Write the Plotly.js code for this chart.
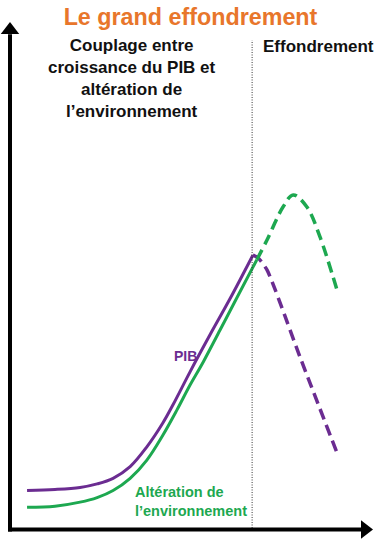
<!DOCTYPE html>
<html>
<head>
<meta charset="utf-8">
<script src="https://cdn.plot.ly/plotly-3.0.1.min.js"></script>
<style>html,body{margin:0;padding:0;background:#fff;}#chart{width:375px;height:543px;}</style>
</head>
<body>
<div id="chart"></div>
<script>
// Abstract units: x = time (0-100), y = level (0-100)
const pibX = [4.7, 12.4, 19.3, 24.0, 28.4, 33.1, 37.7, 42.1, 44.9, 49.6, 55.1, 60.6, 66.9];
const pibY = [7.6, 7.8, 8.2, 8.9, 10.0, 12.3, 16.2, 20.9, 24.5, 31.0, 38.3, 45.4, 54.0];
const pibCollapseX = [66.9, 68.3, 70.8, 79.9, 90.1];
const pibCollapseY = [54.0, 53.5, 51.1, 33.9, 15.0];

const envX = [4.7, 12.4, 19.3, 24.0, 28.4, 33.1, 37.7, 42.1, 46.0, 49.6, 53.2, 57.9, 62.5, 68.0];
const envY = [4.3, 4.5, 5.3, 6.2, 7.6, 10.0, 13.6, 18.5, 23.5, 28.4, 32.9, 39.3, 45.6, 53.1];
const envCollapseX = [68.0, 70.8, 75.2, 78.0, 81.8, 85.4, 90.1];
const envCollapseY = [53.1, 57.0, 63.5, 65.9, 63.5, 57.6, 47.1];

const breakX = 66.7;

const titleText = "Le grand effondrement";
const phase1Text = "Couplage entre<br>croissance du PIB et<br>altération de<br>l’environnement";
const phase2Text = "Effondrement";
const pibLabel = "PIB";
const envLabel = "Altération de<br>l’environnement";

const PURPLE = "#6B2C91";
const GREEN = "#1DA850";
const ORANGE = "#E8762B";
const FONT = "Liberation Sans, Arial, sans-serif";

const traces = [
  {x: pibX, y: pibY, mode: "lines", line: {color: PURPLE, width: 3, shape: "spline", smoothing: 1}, hoverinfo: "skip"},
  {x: pibCollapseX, y: pibCollapseY, mode: "lines", line: {color: PURPLE, width: 3.5, dash: "11px,6px", shape: "spline", smoothing: 0.6}, hoverinfo: "skip"},
  {x: envX, y: envY, mode: "lines", line: {color: GREEN, width: 3, shape: "spline", smoothing: 1}, hoverinfo: "skip"},
  {x: envCollapseX, y: envCollapseY, mode: "lines", line: {color: GREEN, width: 3.5, dash: "11px,6px", shape: "spline", smoothing: 1}, hoverinfo: "skip"},
  // axis arrowheads
  {x: [0, 97.8], y: [98.42, -0.1], mode: "markers", cliponaxis: false, hoverinfo: "skip",
   marker: {symbol: ["triangle-up", "triangle-right"], size: 16, color: "#000", line: {width: 0}}}
];

const layout = {
  width: 375, height: 543,
  margin: {l: 0, r: 0, t: 0, b: 0, pad: 0},
  paper_bgcolor: "#fff", plot_bgcolor: "#fff",
  showlegend: false,
  title: {text: titleText, font: {family: FONT, size: 23.3, color: ORANGE, weight: 700},
          x: 0.508, xref: "container", xanchor: "center", y: 0.969, yref: "container", yanchor: "middle"},
  xaxis: {range: [-2.755, 100.551], showgrid: false, zeroline: false, showline: false, showticklabels: false, ticks: "", fixedrange: true},
  yaxis: {range: [-2.761, 104.339], showgrid: false, zeroline: false, showline: false, showticklabels: false, ticks: "", fixedrange: true},
  shapes: [
    {type: "line", xref: "x", yref: "y", x0: breakX, x1: breakX, y0: 0.2, y1: 96.4,
     line: {color: "#333", width: 1, dash: "1px,1.5px"}},
    {type: "line", xref: "x", yref: "y", x0: 0, x1: 0, y0: -0.5, y1: 97.6,
     line: {color: "#000", width: 4}},
    {type: "line", xref: "x", yref: "y", x0: -0.55, x1: 97.2, y0: -0.1, y1: -0.1,
     line: {color: "#000", width: 4}}
  ],
  annotations: [
    {x: 33.6, y: 88.9, xref: "x", yref: "y", text: phase1Text, showarrow: false, align: "center",
     xanchor: "center", yanchor: "middle", font: {family: FONT, size: 17, color: "#111", weight: 700}},
    {x: 69.1, y: 95.1, xref: "x", yref: "y", text: phase2Text, showarrow: false, align: "left",
     xanchor: "left", yanchor: "middle", font: {family: FONT, size: 17, color: "#111", weight: 700}},
    {x: 48.3, y: 34.1, xref: "x", yref: "y", text: pibLabel, showarrow: false,
     xanchor: "center", yanchor: "middle", font: {family: FONT, size: 14, color: PURPLE, weight: 700}},
    {x: 33.9, y: 5.5, xref: "x", yref: "y", text: envLabel, showarrow: false, align: "left",
     xanchor: "left", yanchor: "middle", font: {family: FONT, size: 14.5, color: GREEN, weight: 700}}
  ]
};

Plotly.newPlot("chart", traces, layout, {displayModeBar: false, staticPlot: true});
</script>
</body>
</html>
